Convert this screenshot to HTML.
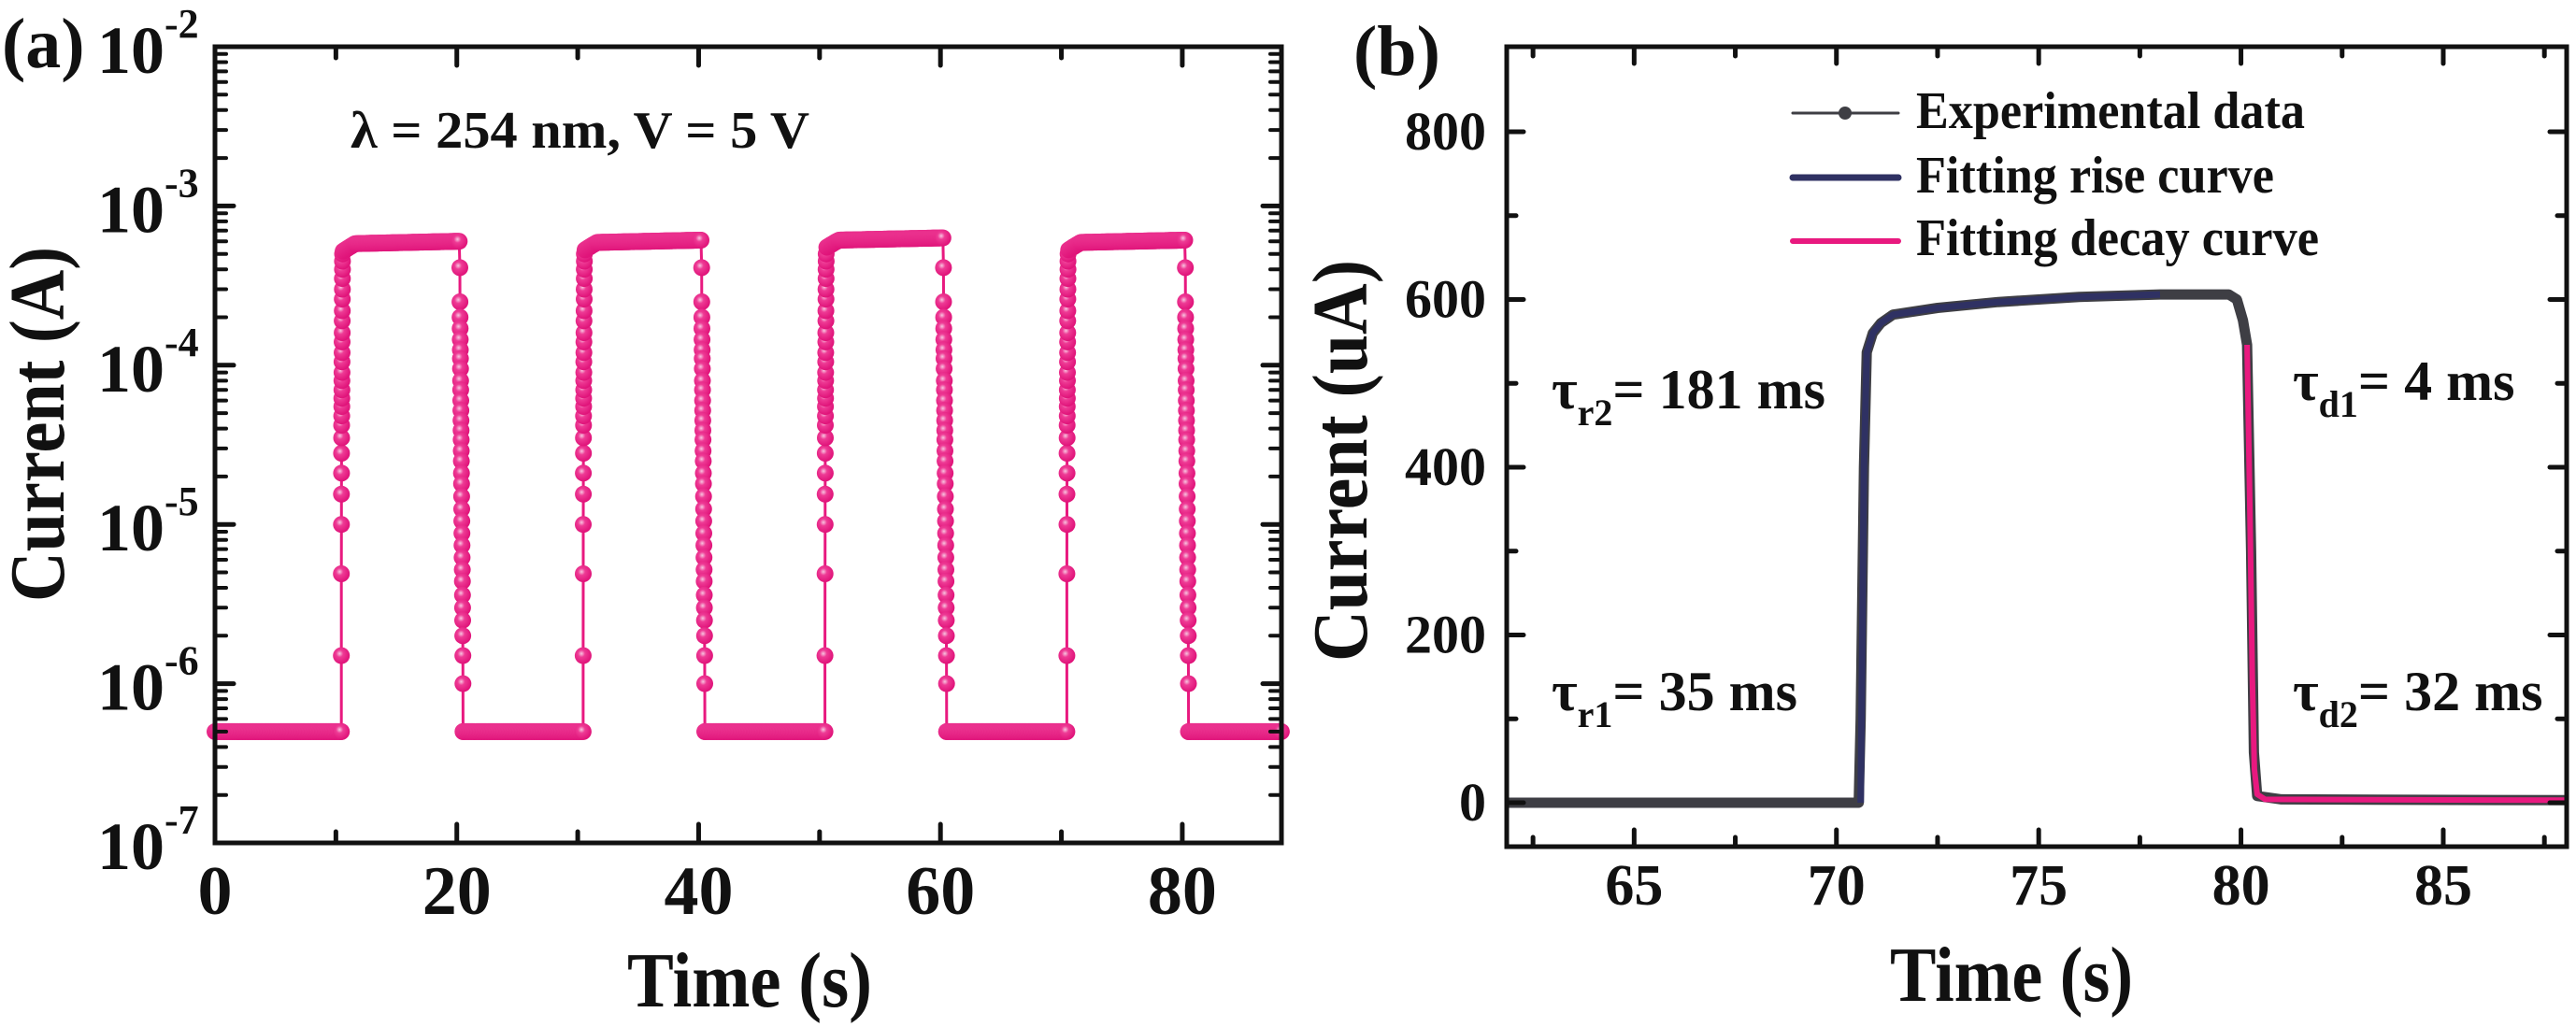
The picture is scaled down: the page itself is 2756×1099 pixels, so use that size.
<!DOCTYPE html>
<html><head><meta charset="utf-8"><style>
html,body{margin:0;padding:0;background:#fff;}
svg{display:block;}
text{font-family:"Liberation Serif",serif;font-weight:bold;fill:#111;}
</style></head><body>
<svg id="fig" width="2756" height="1099" viewBox="0 0 2756 1099" xmlns="http://www.w3.org/2000/svg">
<defs>
<radialGradient id="ball" cx="0.4" cy="0.38" r="0.6">
<stop offset="0" stop-color="#f7c6e0"/><stop offset="0.35" stop-color="#ee3b95"/><stop offset="1" stop-color="#e0147a"/>
</radialGradient>
</defs>
<g id="pa"></g>
<g id="pb"></g>
</svg>
<script>
// ---------- Panel (a) data ----------
const aRiseTimes = [10.45, 30.45, 50.45, 70.45];
const aFallTimes = [20.2, 40.2, 60.2, 80.2];
const aOffLevel = 5e-7;
const aPlateauStart = [5.2e-4, 5.3e-4, 5.5e-4, 5.3e-4];
const aPlateauMid = [5.8e-4, 5.9e-4, 6.1e-4, 5.9e-4];
const aPlateauEnd = [6.0e-4, 6.1e-4, 6.3e-4, 6.1e-4];
const aRiseValues = [1.5e-6, 4.9e-6, 1e-5, 1.55e-5, 2.1e-5, 2.8e-5, 3.5e-5, 4.2e-5, 4.8e-5, 5.5e-5, 6.2e-5, 7e-5, 8e-5, 9e-5, 1.05e-4, 1.2e-4, 1.4e-4, 1.6e-4, 1.9e-4, 2.2e-4, 2.6e-4, 3e-4, 3.5e-4, 4e-4, 4.5e-4, 5e-4];
const aDecayValues = [4.1e-4, 2.5e-4, 2e-4, 1.7e-4, 1.45e-4, 1.25e-4, 1.1e-4, 9.5e-5, 8e-5, 7e-5, 6e-5, 5.2e-5, 4.5e-5, 3.9e-5, 3.4e-5, 2.9e-5, 2.5e-5, 2.1e-5, 1.8e-5, 1.5e-5, 1.25e-5, 1.05e-5, 8.8e-6, 7.4e-6, 6.2e-6, 5.2e-6, 4.4e-6, 3.6e-6, 3e-6, 2.5e-6, 2e-6, 1.5e-6, 1e-6];
const aXTicks = [0, 20, 40, 60, 80];
const aYDecades = [-7, -6, -5, -4, -3, -2];

// ---------- Panel (b) data ----------
const bExpT = [61.85, 70.55, 70.6, 70.68, 70.75, 70.9, 71.1, 71.4, 72.5, 74, 76, 78, 79.7, 79.9, 80.05, 80.15, 80.25, 80.32, 80.4, 81, 88.05];
const bExpI = [0, 0, 100, 400, 537, 560, 572, 582, 590, 597, 603, 606, 606, 600, 575, 546, 300, 60, 8, 4, 3];
const bRiseT = [70.6, 70.68, 70.75, 70.9, 71.1, 71.4, 72.5, 74, 76, 78];
const bRiseI = [0, 400, 537, 560, 572, 582, 590, 597, 603, 606];
const bDecayT = [80.15, 80.22, 80.28, 80.33, 80.4, 80.6, 88.05];
const bDecayI = [546, 350, 150, 40, 10, 4, 3];
const bXTicks = [65, 70, 75, 80, 85];
const bYTicks = [0, 200, 400, 600, 800];

const NS = "http://www.w3.org/2000/svg";
function mk(tag, attrs, parent) {
  const e = document.createElementNS(NS, tag);
  for (const k in attrs) e.setAttribute(k, attrs[k]);
  parent.appendChild(e);
  return e;
}

// ===== Panel A =====
const pa = document.getElementById('pa');
const A = {l: 230, r: 1371, t: 50, b: 902, xmin: 0, xmax: 88.2, ymin: -7, ymax: -2};
const ax = t => A.l + (t - A.xmin) / (A.xmax - A.xmin) * (A.r - A.l);
const ay = v => A.b - (Math.log10(v) - A.ymin) / (A.ymax - A.ymin) * (A.b - A.t);

let pts = [];
let prevEnd = 0;
for (let i = 0; i < aRiseTimes.length; i++) {
  for (let t = prevEnd; t < aRiseTimes[i]; t += 0.12) pts.push([t, aOffLevel]);
  pts.push([aRiseTimes[i], aOffLevel]);
  aRiseValues.forEach((v, k) => pts.push([aRiseTimes[i] + k * 0.004, v]));
  const ps = aRiseTimes[i] + 0.15, pe = aFallTimes[i];
  const pm = ps + 1;
  for (let t = ps; t <= pe; t += 0.08) {
    let v;
    if (t < pm) v = aPlateauStart[i] + (aPlateauMid[i] - aPlateauStart[i]) * (t - ps) / (pm - ps);
    else v = aPlateauMid[i] + (aPlateauEnd[i] - aPlateauMid[i]) * (t - pm) / (pe - pm);
    pts.push([t, v]);
  }
  aDecayValues.forEach((v, k) => pts.push([aFallTimes[i] + 0.05 + k * 0.008, v]));
  prevEnd = aFallTimes[i] + 0.05 + aDecayValues.length * 0.008;
  pts.push([prevEnd, aOffLevel]);
}
for (let t = prevEnd; t <= A.xmax; t += 0.12) pts.push([t, aOffLevel]);

const aLine = mk('polyline', {points: pts.map(p => ax(p[0]).toFixed(1) + ',' + ay(p[1]).toFixed(1)).join(' '), fill: 'none', stroke: '#e8197f', 'stroke-width': 3}, pa);


const mg = mk('g', {}, pa);


pts.forEach(p => {
  mk('circle', {cx: ax(p[0]).toFixed(1), cy: ay(p[1]).toFixed(1), r: 9, fill: 'url(#ball)'}, mg);
});

const fa = mk('rect', {x: A.l, y: A.t, width: A.r - A.l, height: A.b - A.t, fill: 'none', stroke: '#111', 'stroke-width': 5}, pa);


for (let t = 0; t <= 88; t += 10) {
  const len = (t % 20 === 0) ? 20 : 12;
  mk('line', {x1: ax(t), y1: A.b, x2: ax(t), y2: A.b - len, stroke: '#111', 'stroke-width': 5, 'stroke-linecap': 'round'}, pa);
  mk('line', {x1: ax(t), y1: A.t, x2: ax(t), y2: A.t + len, stroke: '#111', 'stroke-width': 5, 'stroke-linecap': 'round'}, pa);
}
aXTicks.forEach(t => {
  const tx = mk('text', {x: ax(t), y: 978, 'font-size': 74, 'text-anchor': 'middle'}, pa);
  tx.textContent = t;
  
  
});
aYDecades.forEach(d => {
  const y = ay(Math.pow(10, d));
  if (d > -7 && d < -2) {
    mk('line', {x1: A.l, y1: y, x2: A.l + 20, y2: y, stroke: '#111', 'stroke-width': 5, 'stroke-linecap': 'round'}, pa);
    mk('line', {x1: A.r, y1: y, x2: A.r - 20, y2: y, stroke: '#111', 'stroke-width': 5, 'stroke-linecap': 'round'}, pa);
  }
  if (d < -2) {
    for (let m = 2; m <= 9; m++) {
      const ym = ay(m * Math.pow(10, d));
      mk('line', {x1: A.l, y1: ym, x2: A.l + 12, y2: ym, stroke: '#111', 'stroke-width': 4, 'stroke-linecap': 'round'}, pa);
      mk('line', {x1: A.r, y1: ym, x2: A.r - 12, y2: ym, stroke: '#111', 'stroke-width': 4, 'stroke-linecap': 'round'}, pa);
    }
  }
  const tx = mk('text', {x: 104, y: y + 28, 'font-size': 72}, pa);
  
  
  const t1 = mk('tspan', {}, tx); t1.textContent = '10';
  const t2 = mk('tspan', {'font-size': 44, dy: -38}, tx); t2.textContent = String(d);
});
</script>
<script>
(function(){
const pa = document.getElementById('pa');
function T(txt, attrs, name) {
  const e = document.createElementNS(NS, 'text');
  for (const k in attrs) e.setAttribute(k, attrs[k]);
  e.textContent = txt;
  
  
  pa.appendChild(e); return e;
}
T('(a)', {x: 2, y: 72, 'font-size': 76}, 'panel-a-label');
T('Time (s)', {x: 802, y: 1077, 'font-size': 84, 'text-anchor': 'middle', textLength: 262, lengthAdjust: 'spacingAndGlyphs'}, 'x-axis-title');
T('Current (A)', {x: 0, y: 0, 'font-size': 84, 'text-anchor': 'middle', textLength: 380, lengthAdjust: 'spacingAndGlyphs', transform: 'translate(68,454) rotate(-90)'}, 'y-axis-title');
T('λ = 254 nm, V = 5 V', {x: 375, y: 158, 'font-size': 56, textLength: 491, lengthAdjust: 'spacingAndGlyphs'}, 'condition-annotation');
})();

(function(){
const pb = document.getElementById('pb');
const B = {l: 1612, r: 2746, t: 50, b: 906, xmin: 61.85, xmax: 88.05};
const bx = t => B.l + (t - B.xmin) / (B.xmax - B.xmin) * (B.r - B.l);
const Y0 = 859, YS = (859 - 141) / 800;
const by = v => Y0 - v * YS;

function line(ts, is, color, w, name) {
  const p = document.createElementNS(NS, 'polyline');
  p.setAttribute('points', ts.map((t, k) => bx(t).toFixed(1) + ',' + by(is[k]).toFixed(1)).join(' '));
  p.setAttribute('fill', 'none'); p.setAttribute('stroke', color); p.setAttribute('stroke-width', w);
  p.setAttribute('stroke-linejoin', 'round');
  
  
  pb.appendChild(p);
}
line(bExpT, bExpI, '#3e3e44', 11, 'experimental-data-line');
line(bRiseT, bRiseI, '#2f3163', 7, 'fitting-rise-curve');
line(bDecayT, bDecayI, '#e8197f', 6, 'fitting-decay-curve');

const fr = document.createElementNS(NS, 'rect');
fr.setAttribute('x', B.l); fr.setAttribute('y', B.t); fr.setAttribute('width', B.r - B.l); fr.setAttribute('height', B.b - B.t);
fr.setAttribute('fill', 'none'); fr.setAttribute('stroke', '#111'); fr.setAttribute('stroke-width', 5);


pb.appendChild(fr);

function L(x1, y1, x2, y2) {
  const e = document.createElementNS(NS, 'line');
  e.setAttribute('x1', x1); e.setAttribute('y1', y1); e.setAttribute('x2', x2); e.setAttribute('y2', y2);
  e.setAttribute('stroke', '#111'); e.setAttribute('stroke-width', 5); e.setAttribute('stroke-linecap', 'round');
  pb.appendChild(e);
}
for (let t = 62.5; t <= 88; t += 2.5) {
  const len = (Math.abs(t % 5) < 0.01) ? 18 : 10;
  L(bx(t), B.b, bx(t), B.b - len);
  L(bx(t), B.t, bx(t), B.t + len);
}
for (let v = 0; v <= 900; v += 100) {
  const y = by(v); if (y < B.t + 3) continue;
  const len = (v % 200 === 0) ? 18 : 10;
  L(B.l, y, B.l + len, y);
  L(B.r, y, B.r - len, y);
}
function T(txt, attrs, name) {
  const e = document.createElementNS(NS, 'text');
  for (const k in attrs) e.setAttribute(k, attrs[k]);
  e.textContent = txt;
  
  
  pb.appendChild(e); return e;
}
bXTicks.forEach(t => T(String(t), {x: bx(t), y: 968, 'font-size': 62, 'text-anchor': 'middle'}, 'x-tick-label'));
bYTicks.forEach(v => T(String(v), {x: 1590, y: by(v) + 19, 'font-size': 58, 'text-anchor': 'end'}, 'y-tick-label'));
T('(b)', {x: 1448, y: 80, 'font-size': 76}, 'panel-b-label');
T('Time (s)', {x: 2152, y: 1071, 'font-size': 84, 'text-anchor': 'middle', textLength: 260, lengthAdjust: 'spacingAndGlyphs'}, 'x-axis-title');
T('Current (uA)', {x: 0, y: 0, 'font-size': 84, 'text-anchor': 'middle', textLength: 430, lengthAdjust: 'spacingAndGlyphs', transform: 'translate(1462,493) rotate(-90)'}, 'y-axis-title');

const lg = document.createElementNS(NS, 'g');
  pb.appendChild(lg);
const leg = [['Experimental data', '#3e3e44', 3, 121, 137, 416], ['Fitting rise curve', '#2f3163', 7, 190, 206, 383], ['Fitting decay curve', '#e8197f', 6, 258, 273, 431]];
leg.forEach((r, k) => {
  const e = document.createElementNS(NS, 'line');
  e.setAttribute('x1', 1918); e.setAttribute('x2', 2031); e.setAttribute('y1', r[3]); e.setAttribute('y2', r[3]);
  e.setAttribute('stroke', r[1]); e.setAttribute('stroke-width', r[2]); e.setAttribute('stroke-linecap', 'round');
   
  lg.appendChild(e);
  if (k === 0) {
    const c = document.createElementNS(NS, 'circle');
    c.setAttribute('cx', 1974); c.setAttribute('cy', r[3]); c.setAttribute('r', 7); c.setAttribute('fill', '#3e3e44');
    lg.appendChild(c);
  }
  const t = document.createElementNS(NS, 'text');
  t.setAttribute('x', 2050); t.setAttribute('y', r[4]); t.setAttribute('font-size', 56);
  t.setAttribute('textLength', r[5]); t.setAttribute('lengthAdjust', 'spacingAndGlyphs');
  t.textContent = r[0];
   
  lg.appendChild(t);
});

function tau(x, y, sub, rest, name) {
  const e = document.createElementNS(NS, 'text');
  e.setAttribute('x', x); e.setAttribute('y', y); e.setAttribute('font-size', 60);
   
  const a = document.createElementNS(NS, 'tspan'); a.textContent = 'τ'; e.appendChild(a);
  const b = document.createElementNS(NS, 'tspan'); b.setAttribute('font-size', 40); b.setAttribute('dy', 18); b.textContent = sub; e.appendChild(b);
  const c = document.createElementNS(NS, 'tspan'); c.setAttribute('dy', -18); c.textContent = rest; e.appendChild(c);
  pb.appendChild(e);
}
tau(1660, 437, 'r2', '= 181 ms', 'tau-r2-annotation');
tau(1660, 760, 'r1', '= 35 ms', 'tau-r1-annotation');
tau(2453, 428, 'd1', '= 4 ms', 'tau-d1-annotation');
tau(2453, 760, 'd2', '= 32 ms', 'tau-d2-annotation');
})();
</script>
</body></html>
